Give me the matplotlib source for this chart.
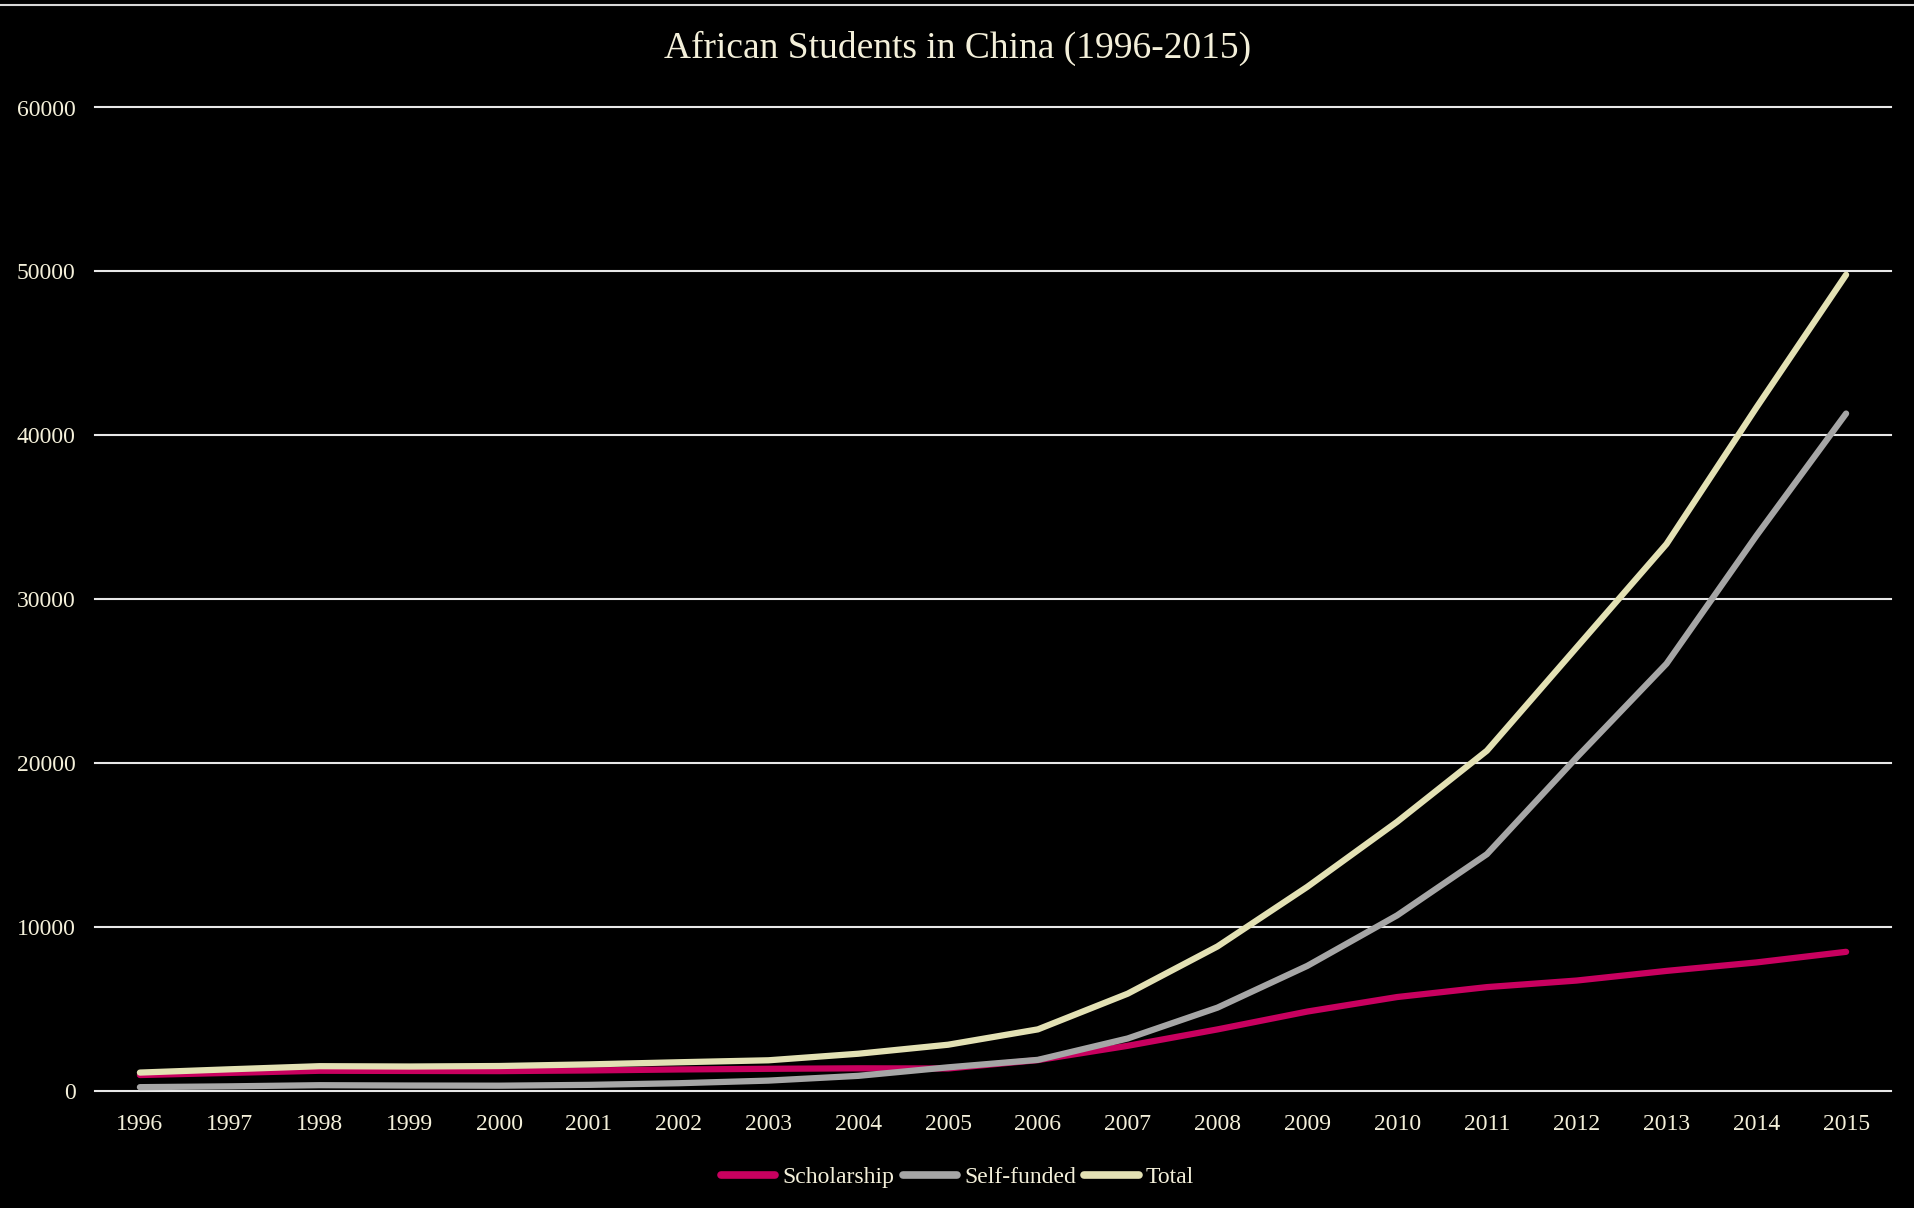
import matplotlib
matplotlib.use("Agg")
import matplotlib.pyplot as plt
from matplotlib.lines import Line2D

years = ["1996", "1997", "1998", "1999", "2000", "2001", "2002", "2003", "2004", "2005",
         "2006", "2007", "2008", "2009", "2010", "2011", "2012", "2013", "2014", "2015"]
scholarship = [950, 1080, 1210, 1200, 1190, 1230, 1290, 1330, 1360, 1350,
               1861, 2733, 3735, 4824, 5710, 6316, 6717, 7305, 7821, 8470]
self_funded = [210, 260, 330, 310, 300, 350, 450, 610, 900, 1420,
               1876, 3182, 5064, 7612, 10693, 14428, 20335, 26054, 33856, 41322]
total = [1100, 1300, 1490, 1470, 1500, 1600, 1730, 1850, 2250, 2800,
         3737, 5915, 8799, 12436, 16403, 20744, 27052, 33359, 41677, 49792]
yticks = [0, 10000, 20000, 30000, 40000, 50000, 60000]

series = [("Scholarship", scholarship, "#C8005F"),
          ("Self-funded", self_funded, "#A6A6A6"),
          ("Total", total, "#E3E1B4")]

text_color = "#F4F0DA"
font = "Liberation Serif"

fig = plt.figure(figsize=(19.15, 12.08), dpi=100, facecolor="black")
ax = fig.add_axes([95 / 1915, 117.4 / 1208, (1891 - 95) / 1915, (1100.5 - 117.4) / 1208])
ax.set_facecolor("black")

x = list(range(len(years)))
for name, vals, col in series:
    ax.plot(x, vals, color=col, lw=4.5, label=name, solid_capstyle="round",
            solid_joinstyle="round")

ax.set_xlim(-0.5, len(years) - 0.5)
ax.set_ylim(0, 60000)
ax.set_yticks(yticks)
ax.set_yticklabels([str(v) for v in yticks])
ax.set_xticks(x)
ax.set_xticklabels(years)
ax.yaxis.grid(True, color="#E8E8E8", lw=1.5)
for gl in ax.get_ygridlines():
    gl.set_clip_on(False)
ax.set_axisbelow(True)
for s in ax.spines.values():
    s.set_visible(False)
ax.tick_params(axis="both", length=0, colors=text_color, labelsize=17)
ax.tick_params(axis="y", pad=14)
ax.tick_params(axis="x", pad=17)
for lab in ax.get_xticklabels() + ax.get_yticklabels():
    lab.set_fontfamily(font)
    lab.set_color(text_color)

fig.text(0.5, 1 - 48 / 1208, "African Students in China (1996-2015)", ha="center", va="center",
         fontsize=27, color=text_color, fontfamily=font)

handles = [Line2D([0], [0], color=c, lw=5.5, solid_capstyle="round") for _, _, c in series]
leg = fig.legend(handles, [n for n, _, _ in series], loc="center", bbox_to_anchor=(0.5, 1 - 1177 / 1208),
                 ncol=3, frameon=False, handlelength=2.3, handletextpad=0.3, columnspacing=0.35,
                 prop={"family": font, "size": 17})
for t in leg.get_texts():
    t.set_color(text_color)

fig.add_artist(Line2D([0, 1], [1 - 5 / 1208, 1 - 5 / 1208], color="#D8D8D8", lw=1.5, transform=fig.transFigure))

fig.savefig("out.png", dpi=100, facecolor="black")
